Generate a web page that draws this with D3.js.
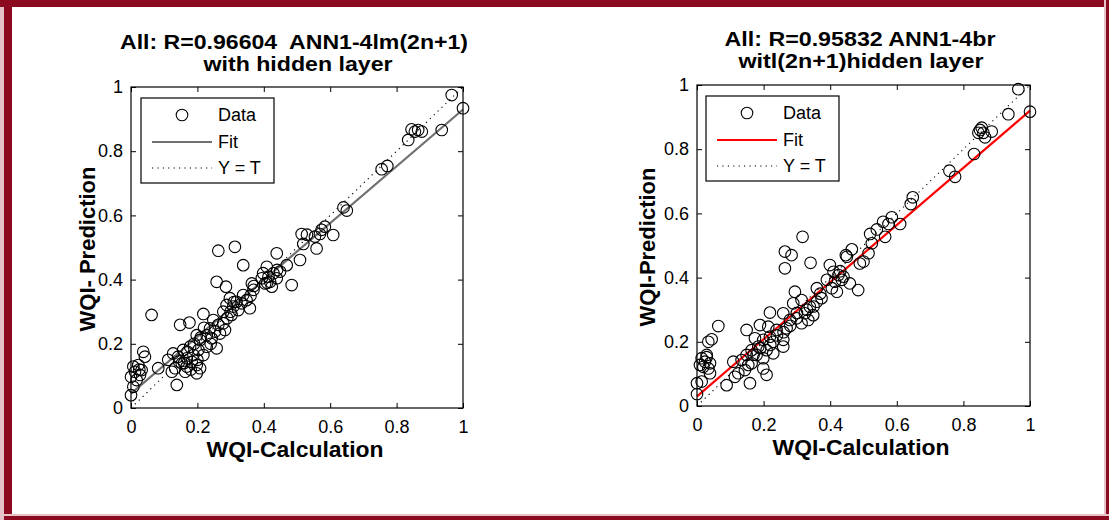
<!DOCTYPE html>
<html>
<head>
<meta charset="utf-8">
<script src="https://cdn.jsdelivr.net/npm/d3@7"></script>
<style>
  html, body { margin: 0; padding: 0; background: #fff; }
  svg { display: block; }
  text { font-family: "Liberation Sans", Arial, Helvetica, sans-serif; fill: #000; white-space: pre; }
</style>
</head>
<body>
<svg id="chart" width="1109" height="520"></svg>
<script>
// ---- Data: targets (WQI-Calculation) and network outputs (WQI-Prediction) ----
const targetsLM = [0.966,1.0,0.936,0.845,0.855,0.876,0.835,0.865,0.755,0.772,0.64,0.65,0.514,0.519,0.559,0.554,0.574,0.569,0.584,0.609,
  0.439,0.263,0.313,0.338,0.258,0.286,0.484,0.409,0.509,0.398,0.414,0.429,0.419,0.404,0.439,0.424,0.394,0.449,0.469,0.364,
  0.369,0.358,0.298,0.318,0.333,0.348,0.308,0.323,0.288,0.338,0.303,0.278,0.218,0.248,0.263,0.278,0.238,0.253,0.268,0.283,
  0.228,0.243,0.258,0.228,0.208,0.198,0.148,0.176,0.062,0.127,0.142,0.157,0.168,0.178,0.188,0.203,0.153,0.168,0.183,0.198,
  0.208,0.133,0.123,0.138,0.198,0.112,0.082,0.218,0.163,0.037,0.042,0.007,0.022,0.032,0.012,0.0,0.027,0.007,0.0,0.017,
  0.19,0.21,0.22,0.17,0.18,0.24,0.30,0.31,0.36,0.37,0.29,0.44,0.41,0.53,0.145,0.16,0.20,0.025];
const outputsLM = [0.975,0.934,0.866,0.868,0.861,0.861,0.835,0.866,0.744,0.754,0.625,0.615,0.542,0.511,0.497,0.534,0.555,0.542,0.565,0.539,
  0.482,0.49,0.502,0.445,0.393,0.378,0.383,0.44,0.461,0.42,0.409,0.42,0.393,0.388,0.404,0.378,0.404,0.425,0.445,0.388,
  0.368,0.311,0.342,0.331,0.326,0.336,0.316,0.305,0.321,0.352,0.29,0.3,0.293,0.274,0.259,0.264,0.248,0.238,0.232,0.243,
  0.227,0.217,0.186,0.191,0.212,0.227,0.259,0.266,0.29,0.17,0.16,0.181,0.155,0.191,0.165,0.181,0.139,0.129,0.144,0.134,
  0.124,0.124,0.113,0.072,0.108,0.15,0.124,0.165,0.113,0.175,0.16,0.129,0.134,0.118,0.113,0.097,0.103,0.066,0.04,0.087,
  0.20,0.22,0.25,0.175,0.12,0.20,0.30,0.33,0.35,0.38,0.28,0.43,0.39,0.54,0.145,0.14,0.15,0.12];

const targetsBR = [0.965,1.0,0.935,0.85,0.86,0.845,0.885,0.865,0.855,0.832,0.758,0.775,0.648,0.642,0.559,0.575,0.585,0.61,0.565,0.52,
  0.525,0.515,0.465,0.447,0.264,0.284,0.317,0.264,0.341,0.399,0.45,0.489,0.5,0.484,0.459,0.41,0.425,0.435,0.414,0.405,
  0.42,0.44,0.39,0.294,0.36,0.289,0.314,0.339,0.36,0.374,0.324,0.349,0.299,0.279,0.269,0.334,0.314,0.259,0.219,0.149,
  0.189,0.214,0.239,0.219,0.199,0.174,0.229,0.259,0.259,0.184,0.164,0.209,0.229,0.179,0.149,0.199,0.134,0.164,0.199,0.209,
  0.154,0.144,0.124,0.114,0.159,0.089,0.109,0.064,0.044,0.034,0.029,0.014,0.024,0.039,0.019,0.034,0.009,0.039,0.0,0.014,
  0.0,0.029,0.24,0.28,0.30,0.33,0.37,0.22,0.17,0.19,0.43,0.54,0.35,0.26];
const outputsBR = [0.987,0.917,0.909,0.86,0.851,0.851,0.855,0.837,0.867,0.785,0.733,0.714,0.65,0.629,0.574,0.567,0.588,0.567,0.527,0.536,
  0.507,0.476,0.488,0.47,0.481,0.47,0.527,0.429,0.446,0.439,0.465,0.444,0.45,0.361,0.382,0.418,0.408,0.393,0.387,0.367,
  0.356,0.403,0.393,0.356,0.367,0.32,0.33,0.309,0.325,0.336,0.289,0.283,0.273,0.268,0.242,0.268,0.258,0.289,0.291,0.237,
  0.252,0.247,0.237,0.216,0.206,0.211,0.2,0.206,0.185,0.185,0.174,0.174,0.164,0.159,0.159,0.149,0.143,0.133,0.117,0.097,
  0.128,0.112,0.102,0.091,0.071,0.065,0.138,0.249,0.208,0.2,0.159,0.149,0.138,0.133,0.122,0.117,0.128,0.102,0.071,0.076,
  0.037,0.152,0.22,0.25,0.29,0.30,0.35,0.19,0.16,0.18,0.42,0.55,0.31,0.23];

// Linear regression fits [slope, intercept]
const fitLM = [0.885, 0.045];
const fitBR = [0.89, 0.03];

const tickValues = [0, 0.2, 0.4, 0.6, 0.8, 1];
const tickLabels = ["0", "0.2", "0.4", "0.6", "0.8", "1"];
const legendLabels = ["Data", "Fit", "Y = T"];

const titlesLM = ["All: R=0.96604  ANN1-4lm(2n+1)", "with hidden layer"];
const titlesBR = ["All: R=0.95832 ANN1-4br", "witl(2n+1)hidden layer"];

// ---- Drawing ----
const svg = d3.select("#chart");
const frameColor = "#8b0a1f";

// Outer frame
svg.append("rect").attr("x", 0).attr("y", 0).attr("width", 1109).attr("height", 520).attr("fill", "#fff");
svg.append("rect").attr("x", 0).attr("y", 0).attr("width", 4).attr("height", 520).attr("fill", "#e6c3c8");
svg.append("rect").attr("x", 4).attr("y", 0).attr("width", 8).attr("height", 520).attr("fill", frameColor);
svg.append("rect").attr("x", 0).attr("y", 0).attr("width", 1109).attr("height", 7).attr("fill", frameColor);
svg.append("rect").attr("x", 1104).attr("y", 0).attr("width", 2).attr("height", 520).attr("fill", "#e6c3c8");
svg.append("rect").attr("x", 1106).attr("y", 0).attr("width", 3).attr("height", 520).attr("fill", frameColor);
svg.append("rect").attr("x", 0).attr("y", 514).attr("width", 1109).attr("height", 2).attr("fill", "#e6c3c8");
svg.append("rect").attr("x", 4).attr("y", 516).attr("width", 1105).attr("height", 4).attr("fill", frameColor);

function drawPanel(cfg) {
  const x = d3.scaleLinear().domain([0, 1]).range([cfg.left, cfg.right]);
  const y = d3.scaleLinear().domain([0, 1]).range([cfg.bottom, cfg.top]);
  const g = svg.append("g");

  // Y = T reference (dotted)
  g.append("line")
    .attr("x1", x(0)).attr("y1", y(0)).attr("x2", x(1)).attr("y2", y(1))
    .attr("stroke", "#000").attr("stroke-width", 1.1).attr("stroke-dasharray", "1.2,4.2");

  // Fit line
  const fx = [0, 1];
  g.append("path")
    .datum(fx)
    .attr("d", d3.line().x(d => x(d)).y(d => y(cfg.fit[0] * d + cfg.fit[1])))
    .attr("fill", "none").attr("stroke", cfg.fitColor).attr("stroke-width", 2.2);

  // Data points
  g.append("g").selectAll("circle")
    .data(d3.zip(cfg.tx, cfg.ty))
    .join("circle")
    .attr("cx", d => x(d[0])).attr("cy", d => y(d[1])).attr("r", 5.8)
    .attr("fill", "none").attr("stroke", "#000").attr("stroke-width", 1.1);

  // Axes box with inward ticks on all four sides
  const tickLen = 5;
  const fmt = (d, i) => tickLabels[i];
  g.append("g").attr("transform", `translate(0,${cfg.bottom})`)
    .call(d3.axisBottom(x).tickValues(tickValues).tickSize(-tickLen).tickPadding(12).tickFormat(fmt))
    .call(a => a.select(".domain").remove())
    .call(a => a.selectAll("text").attr("font-size", 18).attr("font-family", "Liberation Sans, Arial, sans-serif"));
  g.append("g").attr("transform", `translate(${cfg.left},0)`)
    .call(d3.axisLeft(y).tickValues(tickValues).tickSize(-tickLen).tickPadding(8).tickFormat(fmt))
    .call(a => a.select(".domain").remove())
    .call(a => a.selectAll("text").attr("font-size", 18).attr("font-family", "Liberation Sans, Arial, sans-serif"));
  g.append("g").attr("transform", `translate(0,${cfg.top})`)
    .call(d3.axisTop(x).tickValues(tickValues).tickSize(-tickLen).tickFormat(""))
    .call(a => a.select(".domain").remove());
  g.append("g").attr("transform", `translate(${cfg.right},0)`)
    .call(d3.axisRight(y).tickValues(tickValues).tickSize(-tickLen).tickFormat(""))
    .call(a => a.select(".domain").remove());
  g.selectAll(".tick line").attr("stroke", "#000");
  g.append("rect")
    .attr("x", cfg.left).attr("y", cfg.top)
    .attr("width", cfg.right - cfg.left).attr("height", cfg.bottom - cfg.top)
    .attr("fill", "none").attr("stroke", "#000").attr("stroke-width", 1.2);

  // Legend
  const lg = g.append("g").attr("transform", `translate(${cfg.legend[0]},${cfg.legend[1]})`);
  lg.append("rect").attr("width", 133).attr("height", 85)
    .attr("fill", "#fff").attr("stroke", "#000").attr("stroke-width", 1.2);
  const rows = [17, 44, 70];
  lg.append("circle").attr("cx", 41).attr("cy", rows[0]).attr("r", 5.8)
    .attr("fill", "none").attr("stroke", "#000").attr("stroke-width", 1.1);
  lg.append("line").attr("x1", 11).attr("x2", 71).attr("y1", rows[1]).attr("y2", rows[1])
    .attr("stroke", cfg.fitColor).attr("stroke-width", 2.2);
  lg.append("line").attr("x1", 11).attr("x2", 71).attr("y1", rows[2]).attr("y2", rows[2])
    .attr("stroke", "#000").attr("stroke-width", 1.1).attr("stroke-dasharray", "1.2,4.2");
  lg.selectAll("text.lab").data(legendLabels).join("text").attr("class", "lab")
    .attr("x", 77).attr("y", (d, i) => rows[i]).attr("dy", "0.35em")
    .attr("font-size", 18).text(d => d);

  // Titles (two lines, set to their printed widths)
  g.selectAll("text.title").data(cfg.titles).join("text").attr("class", "title")
    .attr("x", (d, i) => cfg.titleX[i]).attr("y", (d, i) => cfg.titleY[i])
    .attr("text-anchor", "middle").attr("font-size", 20).attr("font-weight", "bold")
    .attr("textLength", (d, i) => cfg.titleW[i]).attr("lengthAdjust", "spacingAndGlyphs")
    .text(d => d);

  // Axis labels
  g.append("text").attr("x", cfg.xLabel[0]).attr("y", cfg.xLabel[1])
    .attr("text-anchor", "middle").attr("font-size", 22).attr("font-weight", "bold")
    .attr("textLength", 177).attr("lengthAdjust", "spacingAndGlyphs")
    .text("WQI-Calculation");
  g.append("text")
    .attr("transform", `translate(${cfg.yLabel[0]},${cfg.yLabel[1]}) rotate(-90)`)
    .attr("text-anchor", "middle").attr("font-size", 22).attr("font-weight", "bold")
    .text(cfg.yText);
}

drawPanel({
  left: 131, right: 463, top: 87, bottom: 408,
  tx: targetsLM, ty: outputsLM, fit: fitLM, fitColor: "#707070",
  legend: [141, 98],
  titles: titlesLM, titleX: [294, 298], titleY: [49, 71], titleW: [348, 189],
  xLabel: [295, 457], yLabel: [95, 249], yText: "WQI- Prediction"
});

drawPanel({
  left: 697, right: 1030, top: 85, bottom: 406,
  tx: targetsBR, ty: outputsBR, fit: fitBR, fitColor: "#ff0000",
  legend: [706, 96],
  titles: titlesBR, titleX: [860, 861], titleY: [46, 68], titleW: [271, 245],
  xLabel: [861, 455], yLabel: [655, 247], yText: "WQI-Prediction"
});
</script>
</body>
</html>
